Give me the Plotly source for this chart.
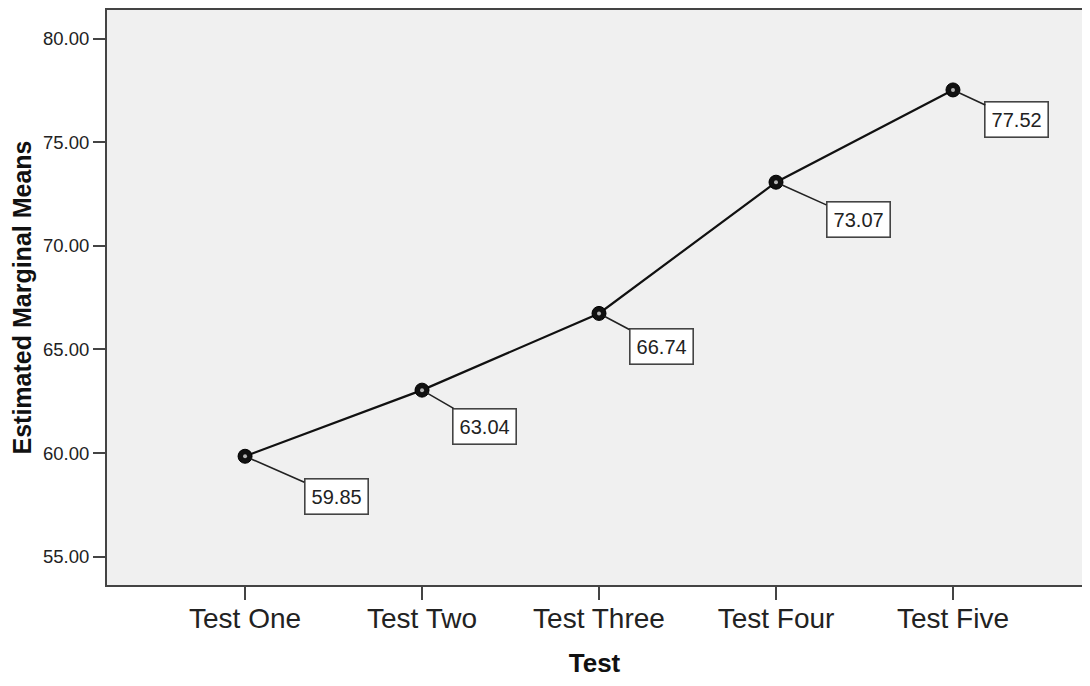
import plotly.graph_objects as go

categories = ["Test One", "Test Two", "Test Three", "Test Four", "Test Five"]
means = [59.85, 63.04, 66.74, 73.07, 77.52]
label_texts = ["59.85", "63.04", "66.74", "73.07", "77.52"]
label_ax = [91, 62, 62, 82, 64]
label_ay = [40, 36, 33, 37, 30]
y_ticks = [55, 60, 65, 70, 75, 80]
y_tick_labels = ["55.00", "60.00", "65.00", "70.00", "75.00", "80.00"]

FONT = "Liberation Sans, Arial, sans-serif"

fig = go.Figure()
fig.add_trace(go.Scatter(
    x=categories, y=means, mode="lines+markers",
    line=dict(color="#111111", width=2.2),
    marker=dict(symbol="circle", size=14, color="#111111",
                line=dict(color="#000000", width=1)),
    hoverinfo="skip", showlegend=False,
))
fig.add_trace(go.Scatter(
    x=categories, y=means, mode="markers",
    marker=dict(symbol="circle", size=4, color="#b5b5b5"),
    hoverinfo="skip", showlegend=False,
))

for c, v, t, ax, ay in zip(categories, means, label_texts, label_ax, label_ay):
    fig.add_annotation(
        x=c, y=v, xref="x", yref="y", text=t,
        showarrow=True, arrowhead=0, arrowwidth=1.6, arrowcolor="#222222",
        ax=ax, ay=ay, standoff=6,
        font=dict(family=FONT, size=20, color="#222222"),
        bgcolor="white", bordercolor="#444444", borderwidth=1.6, borderpad=6,
    )

fig.update_layout(
    width=1074, height=670,
    margin=dict(l=99, r=0, t=0, b=85),
    paper_bgcolor="white", plot_bgcolor="#f0f0f0",
    font=dict(family=FONT, color="#222222"),
)
fig.update_xaxes(
    type="category", range=[-0.78, 4.729],
    showline=True, linecolor="#444444", linewidth=2, mirror=True,
    ticks="outside", ticklen=13, tickwidth=2, tickcolor="#444444",
    ticklabelstandoff=-6,
    showgrid=False, zeroline=False,
    tickfont=dict(family=FONT, size=28, color="#222222"),
    title=dict(text="<b>Test</b>", font=dict(family=FONT, size=26, color="#111111"), standoff=26),
)
fig.update_yaxes(
    range=[53.64, 81.376], tickvals=y_ticks, ticktext=y_tick_labels,
    showline=True, linecolor="#444444", linewidth=2, mirror=False,
    ticks="outside", ticklen=12, tickwidth=2, tickcolor="#444444",
    showgrid=False, zeroline=False,
    tickfont=dict(family=FONT, size=18.5, color="#222222"),
    title=dict(text="<b>Estimated Marginal Means</b>", font=dict(family=FONT, size=25, color="#111111"), standoff=12),
)

fig.write_html("out.html")
